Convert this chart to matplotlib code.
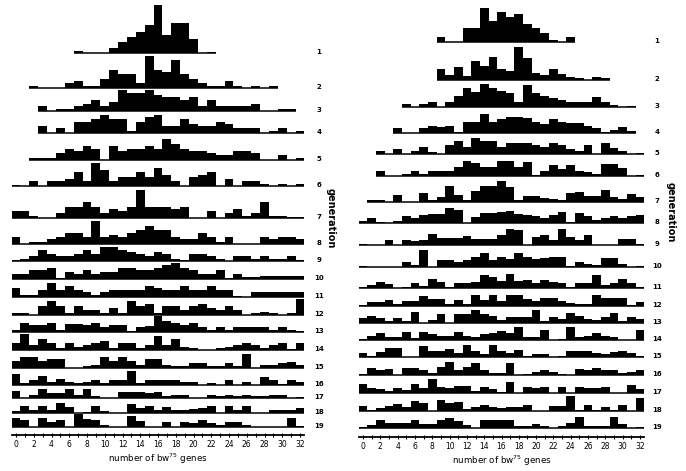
import numpy as np
import matplotlib
matplotlib.use("Agg")
import matplotlib.pyplot as plt

# ---------------- data (counts per bin 0..32) -------------
bins = list(range(33))
tick_labels = [str(v) for v in range(0, 33, 2)]
generation_labels = [str(g) for g in range(1, 20)]

L1 = [0,0,0,0,0,0,0,1,0,0,0,2,5,7,9,12,21,8,13,13,6,0,0.3,0,0,0,0,0,0,0,0,0,0]
L2 = [0,0,1,0,0,0,2,3,1,1,4,8,6,6,2,14,8,7,12,6,4,2,1,1,3,1,0,1,0,1,0,0,0]
L3 = [0,0,0,2,0,1,1,2,3,5,2,4,9,8,8,9,7,6,6,5,6,2,5,2,2,2,2,3,0,0,1,1,0]
L4 = [0,0,0,3,0,2,0,5,5,6,8,6,6,1,5,7,8,3,3,6,4,3,3,5,4,2,2,2,0,1,2,0,1]
L5 = [0,0,1,1,1,3,5,4,6,5,0,6,4,5,5,6,5,9,7,5,4,4,3,2,2,4,4,3,0,0,2,0,1]
L6 = [0.3,0,2,0,2,2,3,6,2,10,7,2,4,4,6,4,8,5,2,0,4,5,6,0,3,0,2,2,1,0,1,0,1]
L7 = [3,3,1,0,0,2,5,5,7,5,2,4,3,5,12,5,5,5,4,5,0,0,3,0,2,4,1,2,7,1,1,0.3,0.3]
L8 = [3,0,1,1,2,3,5,5,3,10,3,4,3,5,6,8,6,6,3,2,2,5,3,1,3,0,0,0,3,2,3,3,2]
L9 = [0.3,1,2,5,3,2,2,3,5,3,6,6,5,4,3,2,4,3,1,0.5,3,3,2,1,0,2,2,1,2,1,1,2,0.3]
L10 = [2,2,4,4,5,0.5,3,2,4,2,3,3,5,5,4,4,5,6,7,5,4,2,2,4,0.5,2,1,1,1.5,1.5,1.5,1.5,1.5]
L11 = [4,1,1,3,6,3,5,3,2,1,2,3,3,3,3,5,4,3,3,5,3,3,5,3,3,0.5,0,2,2,2,2,2,2]
L12 = [1,1,0,4,6,4,1,4,2,2,1,3,1,6,4,5,1,4,4,2,4,5,3,2,4,2,0,1,1.5,1,0,1,7]
L13 = [1,4,3,3,4,1,3.5,3.5,3,4,2,3,3,0.3,2,2.5,7,5,4,3,4,2,1,2,1,2,2,2,2,1,2,1,0.5]
L14 = [3,7,2,5,3,1,3,1.5,2,3,4,1,3,3,1,2,6,2,5,1.5,1,0,0,1,1.5,2,3,2,1,2,3,0.3,3]
L15 = [3,5,5,3,4,4,0,0,1,1.5,5,3,5,3,1.5,4,4,1.5,0.7,0.7,2,2,0.7,1,2,1,6,0,1.5,1.5,2,2.5,1.5]
L16 = [5,0.7,2,4,1.5,2.5,1.5,0.7,1.5,2,1,2,2,6,0.7,2,2,2,2,1.5,1.5,0,0.7,0,2,0,1.5,0,3.5,2,0.5,2,1.5]
L17 = [3,0,1.5,4,2,2,4,1.5,4,0.7,0,0,2.5,2.5,2.5,2,2.5,0.7,1.5,1.5,0,0,1.5,1,1.5,1,1.5,0.7,1,1.5,1.5,0,0.3]
L18 = [1,3,1.5,3,1.5,4.5,2.5,0,0.3,3,1,0,0,4,2,3,1.5,2.5,1.5,1.5,1.7,2,3,0,3,1.5,3,0,0,1.5,1.5,1.5,2]
L19 = [4,3,0,4,2,3,0,5.5,3.5,3,1,0,0,5,2.5,0,0,2,0,2,1.7,3,1.7,1,2,2,0.7,0,0,0,0,4,0.3]

R1 = [0,0,0,0,0,0,0,0,0,2,0,0,6,6,15,9,13,11,12,8,6,4,1,0,2,0,0,0,0,0,0,0,0]
R2 = [0,0,0,0,0,0,0,0,0,4.6,2,5.5,1.7,8.4,6,10,5,4,14.5,9.4,3,2,5,2.6,1.2,0.7,0,1.5,0.7,0,0,0,0]
R3 = [0,0,0,0,0,1.2,0,1.2,2,0,2,5,8.4,6.5,10,8.4,7,6,2,9.4,6,4.6,4,3,2,2,2,4.3,2,0.7,0,0.3,0]
R4 = [0,0,0,0,2,0,0,2,3,2.6,3,0.5,5,5,8.4,5,6,7,7,6.7,5,4,6,5,4.3,4.3,3,2,0.5,1.2,2.6,1,0]
R5 = [0,0,1.2,0,2,0,1.2,3,1,0,4,5.8,3,7,5.8,5.8,3,5,5,5,4,3,5,4,2,1.5,4,0,5,2.6,1.2,0,0.3]
R6 = [0,0,2,0,0,1,2,1,2,2,2,4,6.5,5.6,4,4,6.5,6.5,4,6,0.3,2,4.6,3,4.6,2,1.7,1,5.4,5.4,3.6,0,0.3]
R7 = [0,0.7,0.7,0,3,0,0,4,1,2,6.8,3,0.7,4.8,6.8,6.8,9,6.5,0.7,2.5,2.5,1.9,1.4,1,4,4.3,2.5,2.5,5.4,2,1.4,3.6,2]
R8 = [1,2,0.5,0,1,3,2,3.3,3.8,4,6.7,5.5,0,2.6,4.3,4.3,4.8,5.2,4,3.3,3,2,3.3,4.8,0.5,4.3,3,1.2,2,3,2,3,3.3]
R9 = [0.3,0,0,2,0,2,1.8,2,5,3,3,3,4,2.5,2.5,2.5,4.3,7,6.5,0,3.3,4.3,2,7,3.3,2,4.3,0,0,0,2.5,2.5,0.3]
R10 = [0.3,0,0,0,0,2,1,7.4,0,3,3,2.3,3,4.3,6.2,3,4.3,3.3,6.2,4.3,3.3,4,4.3,4.3,0.4,2.3,1.4,1,3.8,3.8,1.2,0,0.3]
R11 = [0.3,1.2,2.6,1.6,0,0.5,2,1,4,2.6,0.4,2,2,2.6,5.5,5,3,6.2,3,3.3,2.2,3.3,2.6,2,0.4,2,2,5.5,1.2,2,4,2,0.3]
R12 = [0.3,1.7,1.7,2.7,1,2,2,4.2,3,3,0.7,2.7,0.7,4.6,2.5,4.6,2,4.6,4.6,3,2,3.6,3.6,2,1.3,0.7,1,4.6,3.6,3.6,3.6,0.3,1.7]
R13 = [2,3,2,0.7,2,0.7,5,0,1.2,4,0,4,4,5.8,4,3,1.2,2.6,2.6,2.6,5.5,0.7,2.6,1.7,4.3,3,1.7,1.2,2.6,4.3,0.7,2.6,1.7]
R14 = [0.3,1.7,3,1.2,1.2,3.6,0.7,3.6,2.6,1.7,1.7,3.6,1.7,1.2,2.6,3.2,4,3,5.5,1.5,1.2,4.3,0,0.3,5.5,1.2,1.7,3.2,1.7,1.2,0,0,4.3]
R15 = [1.7,0.6,2,4,4,0,0,4.6,2.5,2.5,3.5,1.7,5.4,2.5,1.4,5.4,2.5,1.7,3.2,0.3,1.4,1.4,0,0.6,2.5,2.5,2.5,1.7,1.4,2,2.5,1.7,0.6]
R16 = [0.3,3,2,2.5,0,3,3,2,1,3.6,5.8,2,3.6,5.4,2,1,0.7,5.4,0,0.4,1.4,2,1.4,0.4,0,2.5,2,3,2,2,0.7,1.4,2]
R17 = [4,2,1.7,0.7,2,1.2,4,2,6,2.6,2,2.9,2.9,0.7,2.6,1.7,0.3,4.6,0,2.6,2,2.6,0,2.6,0,2.6,2,2,2.6,0,0,3.6,1.7]
R18 = [2.2,0.4,1.2,2.2,3,1.6,4.5,3.3,0,5,3.6,4,0.7,1.6,2.6,1.6,1.2,1.6,1.6,2.6,0,0,2.2,2.2,6.5,0.4,2.6,0.4,1.9,0.4,2.6,0,5.5]
R19 = [0.3,1.4,3.3,2.2,2.2,2.2,3.3,1.9,1.9,3.3,4.3,2.9,1.4,0,3.3,3.3,3.3,3.3,0.7,1,1.9,0.7,0,1,2.2,4.8,0.7,0.7,1,4.8,1.9,0,0.3]

left_rows = [L1, L2, L3, L4, L5, L6, L7, L8, L9, L10, L11, L12, L13, L14, L15, L16, L17, L18, L19]
right_rows = [R1, R2, R3, R4, R5, R6, R7, R8, R9, R10, R11, R12, R13, R14, R15, R16, R17, R18, R19]

# ---------------- layout (pixels) ----------------
W, H = 686, 471
PX = 2.3  # pixels per count unit

left_layout = dict(x0=16, x32=300, axis_y=435,
                   baselines=[53, 88, 111, 133, 160, 186, 218, 244, 261, 279, 297,
                              315, 332, 350, 368, 385, 398, 413, 427],
                   label_x=319, gen_x=331, gen_y=218)
right_layout = dict(x0=363, x32=640, axis_y=437,
                    baselines=[42, 80, 107, 133, 154, 176, 202, 223, 245, 267, 288,
                               306, 323, 340, 357, 375, 393, 411, 428],
                    label_x=657, gen_x=671, gen_y=212)

fig = plt.figure(figsize=(W / 100, H / 100), dpi=100)
fig.patch.set_facecolor("white")


def draw_panel(rows, lay):
    bw = (lay["x32"] - lay["x0"]) / 32.0
    left = lay["x0"] - bw / 2
    right = lay["x32"] + bw / 2
    ay = lay["axis_y"]
    ax = fig.add_axes([left / W, (H - ay) / H, (right - left) / W, ay / H])
    ax.set_xlim(-0.5, 32.5)
    ax.set_ylim(0, ay / PX)
    for s in ("top", "left", "right"):
        ax.spines[s].set_visible(False)
    ax.spines["bottom"].set_linewidth(1.3)
    ax.set_yticks([])
    ax.set_xticks(list(range(0, 33, 2)))
    ax.set_xticklabels(tick_labels, fontsize=5.5)
    ax.set_xticks(list(range(1, 33, 2)), minor=True)
    ax.tick_params(axis="x", which="both", direction="inout", length=3.5, width=0.8, pad=2)
    ax.set_xlabel("number of bw$^{75}$ genes", fontsize=6.3, labelpad=2)

    for counts, by, lab in zip(rows, lay["baselines"], generation_labels):
        base = (ay - by) / PX
        c = np.asarray(counts, dtype=float)
        ax.bar(bins, c, width=1.0, bottom=base, color="black", linewidth=0)
        nz = np.nonzero(c)[0]
        ax.hlines(base, nz[0] - 0.5, nz[-1] + 0.5, color="black", lw=1.1)
        fig.text(lay["label_x"] / W, 1 - (by - 1) / H, lab, fontsize=5,
                 ha="center", va="center", fontweight="bold")
    fig.text(lay["gen_x"] / W, 1 - lay["gen_y"] / H, "generation", fontsize=7,
             rotation=270, ha="center", va="center", fontweight="bold")
    return ax


draw_panel(left_rows, left_layout)
draw_panel(right_rows, right_layout)

fig.savefig("out.png", dpi=100, facecolor="white")
